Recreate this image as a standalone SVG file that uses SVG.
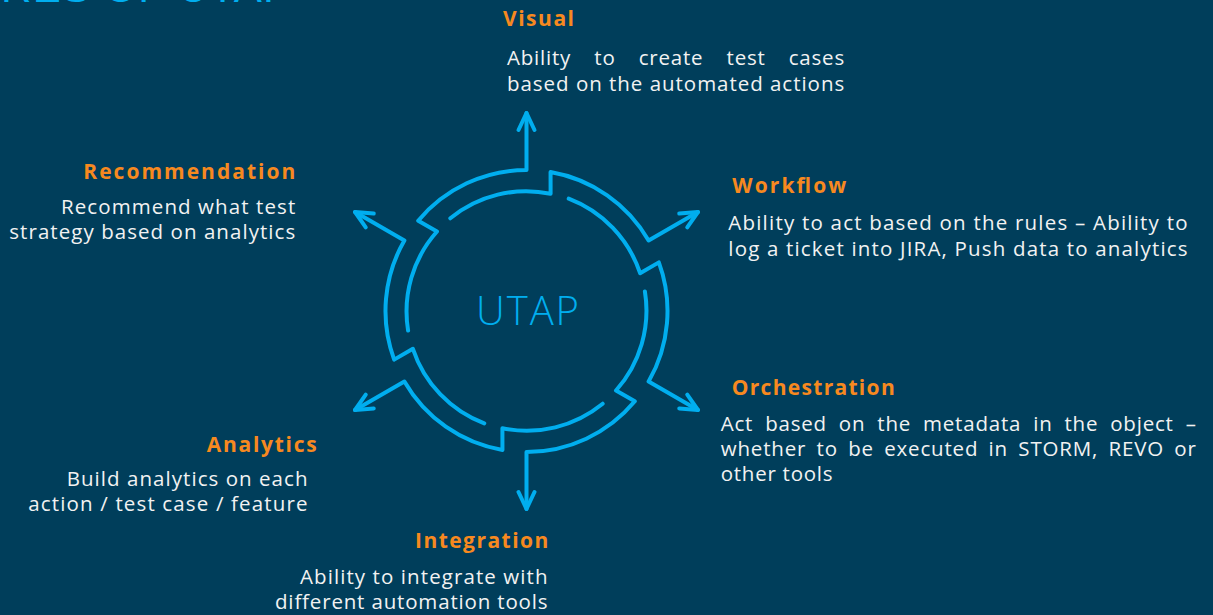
<svg xmlns="http://www.w3.org/2000/svg" width="1213" height="615" viewBox="0 0 1213 615">
  <style>
    .bg { fill: #003e5b; }
    .ring { fill: none; stroke: #00aeef; stroke-width: 4; stroke-linecap: round; stroke-linejoin: round; }
    .head { font-family: "Open Sans", "Liberation Sans", sans-serif; font-weight: 700; font-size: 21px; fill: #f7891f; }
    .body { font-family: "Open Sans", "Liberation Sans", sans-serif; font-size: 20.5px; letter-spacing: 0.8px; fill: #f2f2f2; }
    .hub { font-family: "Open Sans", "Liberation Sans", sans-serif; font-weight: 300; font-size: 40px; fill: #00aeef; }
    .title { font-family: "Liberation Sans", sans-serif; font-size: 42px; letter-spacing: 1px; fill: #00aeef; }
  </style>
  <defs>
    <g id="piece">
      <path class="ring" d="M 0,-198 L 0,-141 A 141 141 0 0 0 -108.3,-90.3 L -89.5,-79.5 A 120 120 0 0 0 -118.4,19.6"/>
      <path class="ring" d="M -8,-181 L 0,-198 L 8,-181"/>
    </g>
  </defs>
  <rect class="bg" x="0" y="0" width="1213" height="615"/>
  <text class="title" x="-140" y="2" textLength="432" lengthAdjust="spacing">FEATURES OF UTAP</text>

  <g id="connectors" transform="translate(526.5,311)">
    <use href="#piece"/>
    <use href="#piece" transform="rotate(60)"/>
    <use href="#piece" transform="rotate(120)"/>
    <use href="#piece" transform="rotate(180)"/>
    <use href="#piece" transform="rotate(240)"/>
    <use href="#piece" transform="rotate(300)"/>
  </g>

  <g id="utap">
    <text class="hub" x="476" y="325" textLength="103" lengthAdjust="spacing">UTAP</text>
  </g>

  <g id="visual">
    <text class="head" x="503" y="26" textLength="71" lengthAdjust="spacing">Visual</text>
    <text class="body" x="507" y="65" word-spacing="17" textLength="338" lengthAdjust="spacing">Ability to create test cases</text>
    <text class="body" x="507" y="90.5" textLength="338" lengthAdjust="spacing">based on the automated actions</text>
  </g>

  <g id="recommendation">
    <text class="head" x="83.3" y="179.3" textLength="212" lengthAdjust="spacing">Recommendation</text>
    <text class="body" x="61" y="214" textLength="235" lengthAdjust="spacing">Recommend what test</text>
    <text class="body" x="9.3" y="238.5" textLength="286.7" lengthAdjust="spacing">strategy based on analytics</text>
  </g>

  <g id="workflow">
    <text class="head" x="732.3" y="193.3" textLength="114" lengthAdjust="spacing">Workflow</text>
    <text class="body" x="728.3" y="230" textLength="460" lengthAdjust="spacing">Ability to act based on the rules – Ability to</text>
    <text class="body" x="728.3" y="255.7" textLength="460" lengthAdjust="spacing">log a ticket into JIRA, Push data to analytics</text>
  </g>

  <g id="orchestration">
    <text class="head" x="731.7" y="395" textLength="163" lengthAdjust="spacing">Orchestration</text>
    <text class="body" x="720.7" y="430.7" word-spacing="5.8" textLength="476" lengthAdjust="spacing">Act based on the metadata in the object –</text>
    <text class="body" x="720.7" y="456" word-spacing="4.2" textLength="476" lengthAdjust="spacing">whether to be executed in STORM, REVO or</text>
    <text class="body" x="720.7" y="481" textLength="112.6" lengthAdjust="spacing">other tools</text>
  </g>

  <g id="analytics">
    <text class="head" x="206.7" y="452.3" textLength="110" lengthAdjust="spacing">Analytics</text>
    <text class="body" x="66.7" y="485.7" textLength="241.6" lengthAdjust="spacing">Build analytics on each</text>
    <text class="body" x="28.3" y="510.7" textLength="280" lengthAdjust="spacing">action / test case / feature</text>
  </g>

  <g id="integration">
    <text class="head" x="415" y="548.3" textLength="133.3" lengthAdjust="spacing">Integration</text>
    <text class="body" x="300" y="584" textLength="248.3" lengthAdjust="spacing">Ability to integrate with</text>
    <text class="body" x="275" y="609.3" textLength="273.3" lengthAdjust="spacing">different automation tools</text>
  </g>
</svg>
